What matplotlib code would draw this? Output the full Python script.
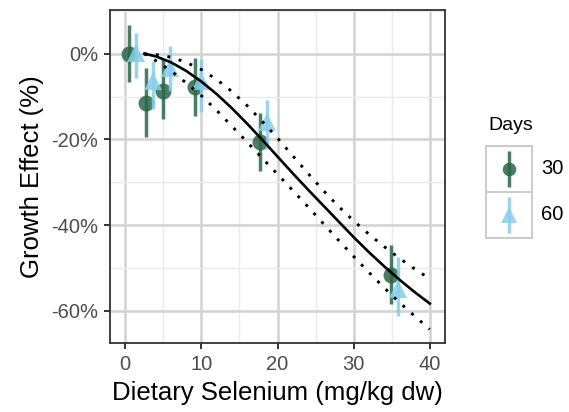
import numpy as np
import matplotlib
matplotlib.use('Agg')
import matplotlib.pyplot as plt
from matplotlib.patches import Rectangle
from matplotlib.ticker import FuncFormatter

plt.rcParams['font.family'] = ['Liberation Sans', 'DejaVu Sans']

# data
dose = [1.0, 3.2, 5.4, 9.55, 18.15, 35.4]
dodge = 0.45

eff30 = [0.0, -11.4, -8.6, -7.7, -20.6, -51.7]
lo30 = [-6.7, -19.5, -15.3, -14.6, -27.3, -58.5]
hi30 = [6.7, -3.3, -1.2, -1.0, -13.8, -44.7]

eff60 = [0.2, -6.4, -3.3, -6.4, -16.0, -54.8]
lo60 = [-5.6, -13.0, -8.7, -13.7, -22.3, -61.3]
hi60 = [4.8, -1.8, 1.9, -1.2, -10.7, -47.4]

# fitted curve and its confidence band
fit_x = [2.5, 4, 6, 8, 10, 12, 14, 16, 18, 20, 22, 24, 26, 28, 30, 32, 34, 36, 38, 40]
fit_y = [0, -0.6, -2.0, -4.0, -6.5, -9.4, -12.7, -16.3, -20.1, -24.0, -27.9, -31.7,
         -35.4, -39.1, -42.8, -46.3, -49.6, -52.7, -55.6, -58.3]
fit_hi = [0, -0.2, -0.8, -2.0, -3.7, -6.0, -8.8, -12.1, -15.8, -19.7, -23.8, -27.9,
          -31.9, -35.6, -39.0, -42.1, -45.0, -47.7, -50.2, -52.5]
fit_lo = [0, -1.6, -4.0, -6.8, -9.8, -13.2, -16.9, -20.6, -24.4, -28.1, -31.9, -35.7,
          -39.6, -43.5, -47.3, -51.0, -54.6, -58.0, -61.2, -64.3]

days = ['30', '60']
col30 = '#2A6747'
col60 = '#87CEEB'

W, H = 569, 412
fig = plt.figure(figsize=(W / 100, H / 100), dpi=100)
ax = fig.add_axes([110 / W, (H - 343) / H, 335 / W, 333 / H])

# grid
ax.set_xticks([0, 10, 20, 30, 40])
ax.set_xticks([5, 15, 25, 35], minor=True)
ax.set_yticks([0, -20, -40, -60])
ax.set_yticks([10, -10, -30, -50], minor=True)
ax.grid(which='major', color='#D4D4D4', linewidth=1.9, zorder=0)
ax.grid(which='minor', color='#EBEBEB', linewidth=1.0, zorder=0)
ax.set_axisbelow(True)

x30 = np.array(dose) - dodge
x60 = np.array(dose) + dodge

ax.vlines(x30, lo30, hi30, color=col30, linewidth=2.5, alpha=0.85, zorder=3)
ax.plot(x30, eff30, 'o', color=col30, markersize=11.5, alpha=0.85,
        markeredgewidth=0, zorder=3)
ax.vlines(x60, lo60, hi60, color=col60, linewidth=2.5, alpha=0.85, zorder=4)
ax.plot(x60, eff60, '^', color=col60, markersize=13, alpha=0.85,
        markeredgewidth=0, zorder=4)

ax.plot(fit_x, fit_y, color='black', linewidth=1.9, zorder=5)
ax.plot(fit_x, fit_hi, color='black', linewidth=2.1, linestyle=(0, (1, 3)), zorder=5)
ax.plot(fit_x, fit_lo, color='black', linewidth=2.1, linestyle=(0, (1, 3)), zorder=5)

ax.set_xlim(-2, 42)
ax.set_ylim(-67.5, 10.2)
ax.yaxis.set_major_formatter(FuncFormatter(lambda v, p: '%d%%' % v))

for s in ax.spines.values():
    s.set_color('#333333')
    s.set_linewidth(1.3)
ax.tick_params(which='major', length=4.5, width=1.4, color='#333333',
               labelcolor='#4D4D4D', labelsize=14.5, pad=4)
ax.tick_params(which='minor', length=0)

ax.set_xlabel('Dietary Selenium (mg/kg dw)', fontsize=18.5, labelpad=5)
ax.set_ylabel('Growth Effect (%)', fontsize=18.5, labelpad=5)

# legend drawn as ggplot-style key boxes
lax = fig.add_axes([486 / W, (H - 238) / H, 46 / W, 92 / H])
lax.set_xlim(0, 1)
lax.set_ylim(0, 2)
lax.axis('off')
for i, (lab, c, m, ms) in enumerate(zip(days, [col30, col60], ['o', '^'], [11.5, 13])):
    yc = 1.5 - i
    lax.add_patch(Rectangle((0, yc - 0.5), 1, 1, facecolor='white',
                            edgecolor='#CCCCCC', linewidth=1.4, clip_on=False))
    lax.vlines(0.5, yc - 0.4, yc + 0.4, color=c, linewidth=2.5, alpha=0.85)
    lax.plot(0.5, yc, m, color=c, markersize=ms * 0.85, alpha=0.85,
             markeredgewidth=0)
    lax.text(1.2, yc, lab, fontsize=14.5, va='center', ha='left')
lax.text(0.05, 2.25, 'Days', fontsize=14, va='bottom', ha='left')

fig.savefig('out.png', dpi=100)
